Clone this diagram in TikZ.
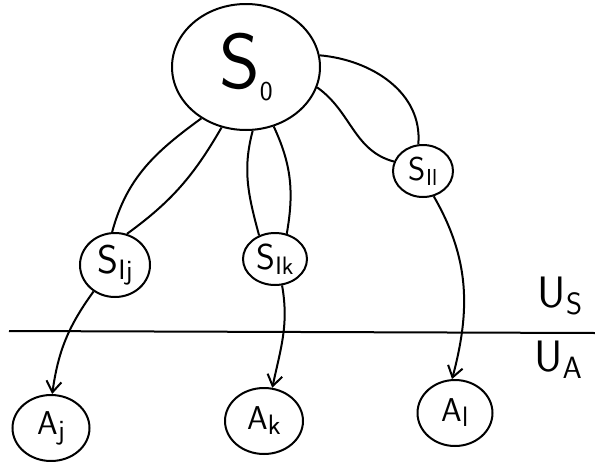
\documentclass[tikz,border=0pt]{standalone}
\usepackage{tikz}
\usepackage{graphicx}
\usetikzlibrary{shapes.geometric,arrows.meta}
\tikzset{>={Straight Barb[length=11pt,width=15pt]}}
\newcommand{\low}[2][0.7]{\raisebox{-0.35ex}{\scalebox{#1}{#2}}}

\begin{document}
\begin{tikzpicture}[x=1pt,y=-1pt,line width=2pt,
	blob/.style={draw,ellipse,inner sep=0pt,font=\sffamily\fontsize{40}{44}\selectfont},
	act/.style={blob,minimum width=77pt,minimum height=66pt,font=\sffamily\fontsize{33}{36}\selectfont},
	level/.style={font=\sffamily\fontsize{44}{48}\selectfont}]
	\useasboundingbox (0,0) rectangle (595,461);

	% states
	\node[blob,minimum width=148pt,minimum height=126pt,font=\sffamily\fontsize{78}{80}\selectfont] (S0) at (246,67) {S\low[0.35]{0}};
	\node[blob,minimum width=70pt,minimum height=64pt] (SIj) at (115,265) {S\low{Ij}};
	\node[blob,minimum width=64pt,minimum height=52pt,font=\sffamily\fontsize{36}{40}\selectfont] (SIk) at (275,259) {S\low{Ik}};
	\node[blob,minimum width=60pt,minimum height=52pt,font=\sffamily\fontsize{33}{36}\selectfont] (SIl) at (423,171) {S\low{Il}};

	% actions
	\node[act] (Aj) at (51,428) {A\low[0.85]{j}};
	\node[act,minimum width=78pt] (Ak) at (264,421) {A\low[0.85]{k}};
	\node[act,minimum width=75pt] (Al) at (455,413) {A\low[0.85]{l}};

	% divider between the two levels
	\draw (9,331) -- (595,333);
	\node[level] (US) at (560,296) {U\low{S}};
	\node[level] (UA) at (558,360) {U\low{A}};

	% links from the root
	\draw (S0.229) to[out=216,in=75] (SIj.95);
	\draw (S0.248) to[out=240,in=36] (SIj.69);
	\draw (S0.276) to[out=255,in=105] (SIk.124);
	\draw (S0.295) to[out=295,in=80] (SIk.65);
	\draw (S0.9) to[out=-5,in=85] (SIl.100);
	\draw (S0.344) to[out=-35,in=165] (SIl.162);

	% down to the actions
	\draw[->] (SIj.231) to[out=234,in=82] (Aj.88);
	\draw[->] (SIk.285) to[out=280,in=78] (Ak.76);
	\draw[->] (SIl.293) to[out=300,in=75] (Al.95);
\end{tikzpicture}
\end{document}
